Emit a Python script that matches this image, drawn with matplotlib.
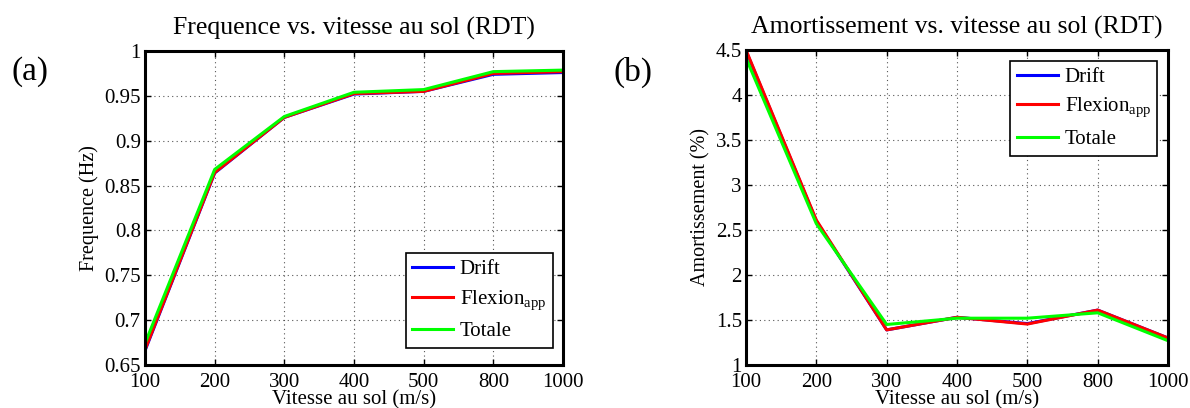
import matplotlib
matplotlib.use("Agg")
import matplotlib.pyplot as plt
from matplotlib.ticker import FuncFormatter

plt.rcParams['font.family'] = ['Liberation Serif', 'DejaVu Serif']
plt.rcParams['mathtext.fontset'] = 'custom'
plt.rcParams['mathtext.rm'] = 'Liberation Serif'

vitesse = ['100', '200', '300', '400', '500', '800', '1000']

freq_drift = [0.666, 0.864, 0.926, 0.952, 0.955, 0.974, 0.976]
freq_flexion = [0.667, 0.8645, 0.926, 0.9525, 0.955, 0.975, 0.977]
freq_totale = [0.674, 0.868, 0.927, 0.954, 0.957, 0.977, 0.9787]

amort_drift = [4.49, 2.60, 1.39, 1.53, 1.46, 1.61, 1.30]
amort_flexion = [4.50, 2.61, 1.39, 1.53, 1.455, 1.61, 1.30]
amort_totale = [4.41, 2.57, 1.45, 1.52, 1.52, 1.58, 1.27]

freq_ticks = [0.65, 0.7, 0.75, 0.8, 0.85, 0.9, 0.95, 1.0]
amort_ticks = [1, 1.5, 2, 2.5, 3, 3.5, 4, 4.5]

fig = plt.figure(figsize=(11.9, 4.08), dpi=100)
ax1 = fig.add_axes([145/1190, (408-365)/408, 418/1190, 314/408])
ax2 = fig.add_axes([746/1190, (408-365)/408, 422/1190, 315/408])

idx = list(range(len(vitesse)))

def style(ax, yticks):
    ax.set_xlim(0, len(vitesse) - 1)
    ax.set_xticks(idx)
    ax.set_xticklabels(vitesse)
    ax.set_ylim(yticks[0], yticks[-1])
    ax.set_yticks(yticks)
    ax.yaxis.set_major_formatter(FuncFormatter(lambda v, p: '%g' % round(v, 3)))
    ax.grid(True, linestyle=(0, (1, 3)), color='#555555', linewidth=0.8)
    ax.tick_params(direction='in', top=True, right=True, labelsize=15, length=4,
                   width=1)
    ax.tick_params(axis='x', pad=6)
    ax.tick_params(axis='y', pad=3)
    for s in ax.spines.values():
        s.set_linewidth(2.2)
    ax.set_axisbelow(True)

for ax, d, f, t, yt in [(ax1, freq_drift, freq_flexion, freq_totale, freq_ticks),
                        (ax2, amort_drift, amort_flexion, amort_totale, amort_ticks)]:
    ax.plot(idx, d, color='#0000ff', lw=2.2, label='Drift')
    ax.plot(idx, f, color='#ff0000', lw=2.2, label=r'Flexion$_{\mathrm{app}}$')
    ax.plot(idx, t, color='#00ff00', lw=2.2, label='Totale')
    style(ax, yt)

ax1.set_title('Frequence vs. vitesse au sol (RDT)', fontsize=18.5, pad=12)
ax2.set_title('Amortissement vs. vitesse au sol (RDT)', fontsize=18.5, pad=12)
ax1.set_xlabel('Vitesse au sol (m/s)', fontsize=15, va='top')
ax2.set_xlabel('Vitesse au sol (m/s)', fontsize=15, va='top')
ax1.xaxis.set_label_coords(0.5, -(390 - 365) / 314)
ax2.xaxis.set_label_coords(0.5, -(390 - 365) / 315)
ax1.set_ylabel('Frequence (Hz)', fontsize=14.5, labelpad=4)
ax2.set_ylabel('Amortissement (%)', fontsize=14.5, labelpad=4)

for ax, loc, anchor in [(ax1, 'lower right', (0.975, 0.055)), (ax2, 'upper right', (0.975, 0.965))]:
    leg = ax.legend(loc=loc, bbox_to_anchor=anchor, fontsize=15, fancybox=False,
                    framealpha=1, edgecolor='black', handlelength=2.0,
                    handletextpad=0.3, borderpad=0.3, labelspacing=0.45,
                    borderaxespad=0)
    leg.get_frame().set_linewidth(1.2)

fig.text(30/1190, 1 - 72/408, '(a)', fontsize=24, ha='center', va='center')
fig.text(633/1190, 1 - 72/408, '(b)', fontsize=24, ha='center', va='center')

fig.savefig('out.png', dpi=100)
